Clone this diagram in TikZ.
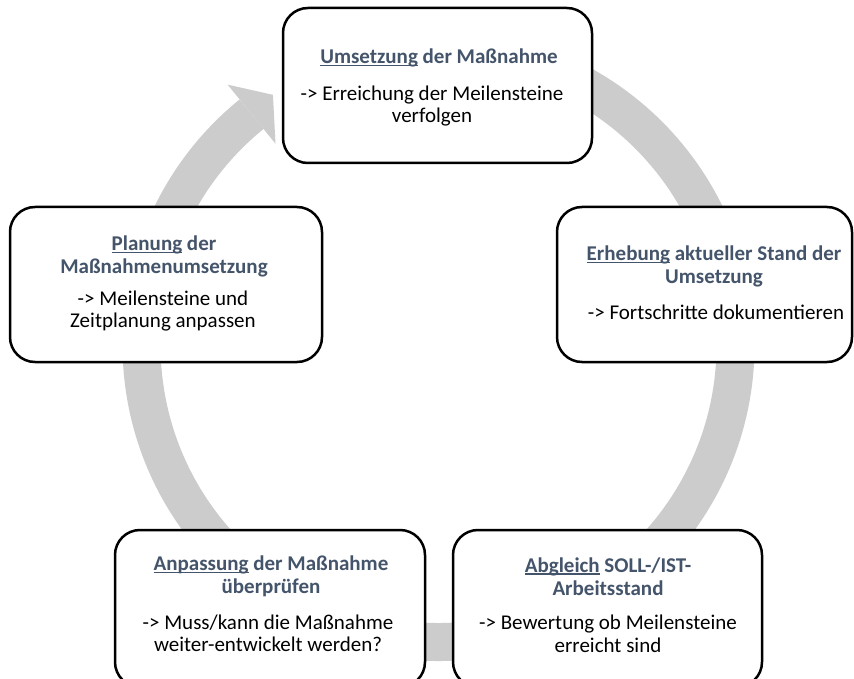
\documentclass[tikz,border=0pt]{standalone}
\usepackage{fontspec}
\setmainfont{Carlito}
\definecolor{titlec}{HTML}{44546A}
\definecolor{ringc}{HTML}{CCCCCC}
\newcommand\myul[1]{\setbox0\hbox{#1}\rlap{\rule[-2.4pt]{\wd0}{1.2pt}}\box0\relax}
\tikzset{
  stepbox/.style={draw=black, line width=2.5pt, fill=white, rounded corners=25pt, inner sep=0pt},
  ttl/.style={font=\fontsize{21}{23}\selectfont\bfseries, text=titlec, align=center, inner sep=0pt},
  bdy/.style={font=\fontsize{21}{22.5}\selectfont, text=black, align=center, inner sep=0pt}
}
\begin{document}
\begin{tikzpicture}[x=1pt,y=-1pt]
\useasboundingbox (0,0) rectangle (854,679);
\clip (0,0) rectangle (854,679);
\fill[white] (0,0) rectangle (854,679);
% ring
\coordinate (c) at (438.5,345);
\draw[ringc, line width=38pt] (c) ++(-95:297) arc[start angle=-95, end angle=231, radius=297];
\path (c) ++(231:335) coordinate (h1);
\path (c) ++(236.5:300) coordinate (h2);
\path (c) ++(231:259) coordinate (h3);
\fill[ringc] (h1) -- (h2) -- (h3) -- cycle;
% top
\node[stepbox, minimum width=309pt, minimum height=155pt] (b1) at (437.5,85.5) {};
\node[ttl] (b1t) at (439,58) {\myul{Umsetzung} der Maßnahme};
\node[bdy] (b1b) at (432,106) {-> Erreichung der Meilensteine\\verfolgen};
% left
\node[stepbox, minimum width=312pt, minimum height=155pt] (b2) at (166,284.5) {};
\node[ttl] (b2t) at (164,256.5) {\myul{Planung} der\\Maßnahmenumsetzung};
\node[bdy] (b2b) at (163,311) {-> Meilensteine und\\Zeitplanung anpassen};
% right
\node[stepbox, minimum width=295pt, minimum height=155pt] (b3) at (704.5,284.5) {};
\node[ttl] (b3t) at (714,266.5) {\myul{Erhebung} aktueller Stand der\\Umsetzung};
\node[bdy] (b3b) at (716,312) {-> Fortschritte dokumentieren};
% bottom left
\node[stepbox, minimum width=310pt, minimum height=157pt] (b4) at (270,608.5) {};
\node[ttl] (b4t) at (271,576.5) {\myul{Anpassung} der Maßnahme\\überprüfen};
\node[bdy] (b4b) at (268,633.5) {-> Muss/kann die Maßnahme\\weiter-entwickelt werden?};
% bottom right
\node[stepbox, minimum width=309pt, minimum height=157pt] (b5) at (607.5,608.5) {};
\node[ttl] (b5t) at (608,576.5) {\myul{Abgleich} SOLL-/IST-\\Arbeitsstand};
\node[bdy] (b5b) at (608,634) {-> Bewertung ob Meilensteine\\erreicht sind};
\end{tikzpicture}
\end{document}
